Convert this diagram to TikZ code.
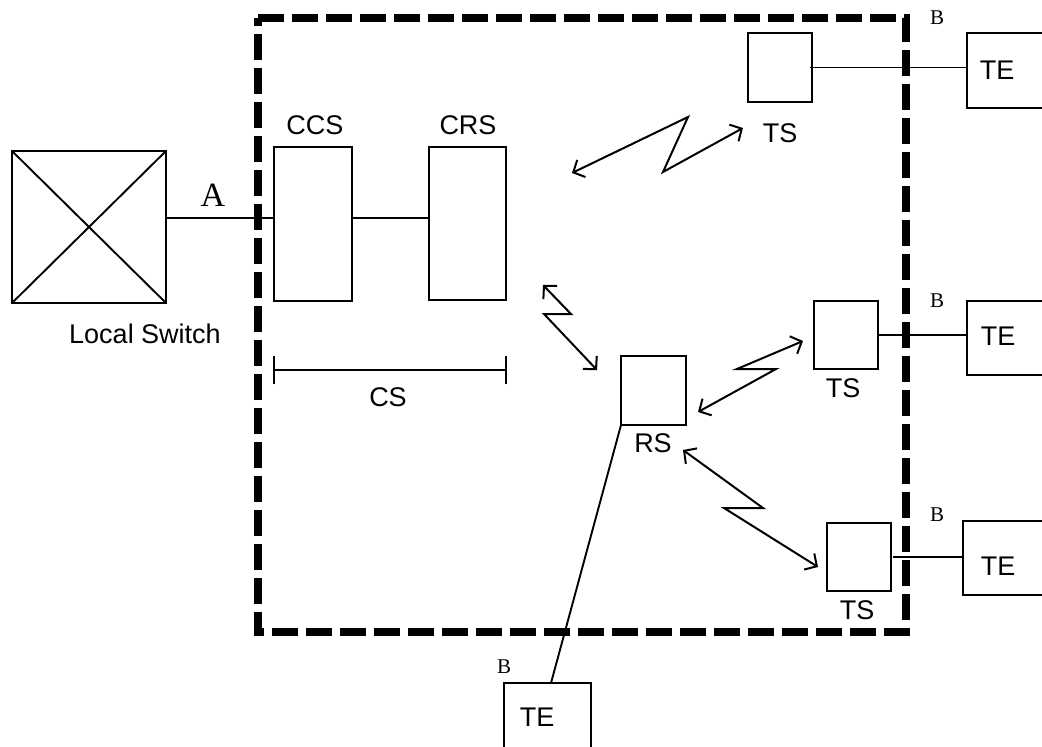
\documentclass[tikz,border=0pt]{standalone}
\usepackage{fontspec}
\setmainfont{Liberation Sans}
\newfontfamily\tnr{Liberation Serif}
\usetikzlibrary{arrows.meta}
\tikzset{
  box/.style={draw, line width=2pt, inner sep=0pt, outer sep=0pt, rectangle},
  lbl/.style={font=\fontsize{27}{30}\selectfont, inner sep=0pt},
  blbl/.style={font=\tnr\fontsize{21}{24}\selectfont, inner sep=0pt},
  alabel/.style={font=\tnr\fontsize{34}{38}\selectfont, inner sep=0pt},
  wire/.style={line width=1.9pt},
  radio/.style={line width=2pt, {Straight Barb[length=9pt,width=19pt,line width=2pt]}-{Straight Barb[length=9pt,width=19pt,line width=2pt]}},
  border/.style={line width=8pt, dash pattern=on 26pt off 8pt}
}
\begin{document}
\begin{tikzpicture}[x=1pt,y=-1pt]
\clip (0,0) rectangle (1042,747);
\fill[white] (0,0) rectangle (1042,747);

% dashed boundary
\draw[border] (258,18) -- (906,18) -- (906,632) -- (258,632) -- cycle;

% nodes
\node[box, minimum width=154pt, minimum height=152pt] (ls) at (89,227) {};
\draw[wire] (ls.north west) -- (ls.south east);
\draw[wire] (ls.north east) -- (ls.south west);
\node[box, minimum width=78pt, minimum height=154pt] (ccs) at (313,224) {};
\node[box, minimum width=77pt, minimum height=153pt] (crs) at (467.5,223.5) {};
\node[box, minimum width=64pt, minimum height=69pt] (ts1) at (780,67.5) {};
\node[box, minimum width=64pt, minimum height=68pt] (ts2) at (846,335) {};
\node[box, minimum width=64pt, minimum height=68pt] (ts3) at (859,557) {};
\node[box, minimum width=65pt, minimum height=69pt] (rs) at (653.5,390.5) {};
\node[box, minimum width=95pt, minimum height=75pt] (te1) at (1014.5,70.5) {};
\node[box, minimum width=95pt, minimum height=74pt] (te2) at (1014.5,338) {};
\node[box, minimum width=99pt, minimum height=74pt] (te3) at (1012.5,558) {};
\node[box, minimum width=87pt, minimum height=87pt] (te4) at (547.5,726.5) {};

% labels
\node[lbl] (lsl) at (145,334) {Local Switch};
\node[alabel] (al) at (213,195) {A};
\node[lbl] (ccsl) at (315,125) {CCS};
\node[lbl] (crsl) at (468,125) {CRS};
\node[lbl] (csl) at (388,397) {CS};
\node[lbl] (ts1l) at (780,133) {TS};
\node[lbl] (ts2l) at (843,388) {TS};
\node[lbl] (ts3l) at (857,610) {TS};
\node[lbl] (rsl) at (653,443) {RS};
\node[lbl] (te1l) at (997,70) {TE};
\node[lbl] (te2l) at (998,336) {TE};
\node[lbl] (te3l) at (998,566) {TE};
\node[lbl] (te4l) at (537,717) {TE};
\node[blbl] (b1) at (937,18) {B};
\node[blbl] (b2) at (937,301) {B};
\node[blbl] (b3) at (937,515) {B};
\node[blbl] (b4) at (504,667) {B};

% wired connections
\draw[wire] (ls.east |- 0,218) -- (ccs.west |- 0,218);
\draw[wire] (ccs.east |- 0,218) -- (crs.west |- 0,218);
\draw[wire] ([xshift=-2pt]ts1.east) -- (te1.west |- ts1.east);
\draw[wire] (ts2.east) -- (te2.west |- ts2.east);
\draw[wire] ([xshift=2pt]ts3.east) -- (te3.west |- ts3.east);
\draw[wire] (rs.south west) -- ([xshift=3.5pt]te4.north);

% CS span
\coordinate (cs1) at (274,370);
\coordinate (cs2) at (506,370);
\draw[wire] (cs1) -- (cs2);
\draw[wire] ([yshift=-14pt]cs1) -- ([yshift=14pt]cs1);
\draw[wire] ([yshift=-14pt]cs2) -- ([yshift=14pt]cs2);

% radio links
\draw[radio] (572,173) -- (688,117) -- (663,172) -- (743,128);
\draw[radio] (543,285) -- (571,314) -- (544,314) -- (597,370);
\draw[radio] (698,412) -- (776,369) -- (737,369) -- (803,341);
\draw[radio] (683,450) -- (763,508) -- (724,508) -- (818,567);
\end{tikzpicture}
\end{document}
